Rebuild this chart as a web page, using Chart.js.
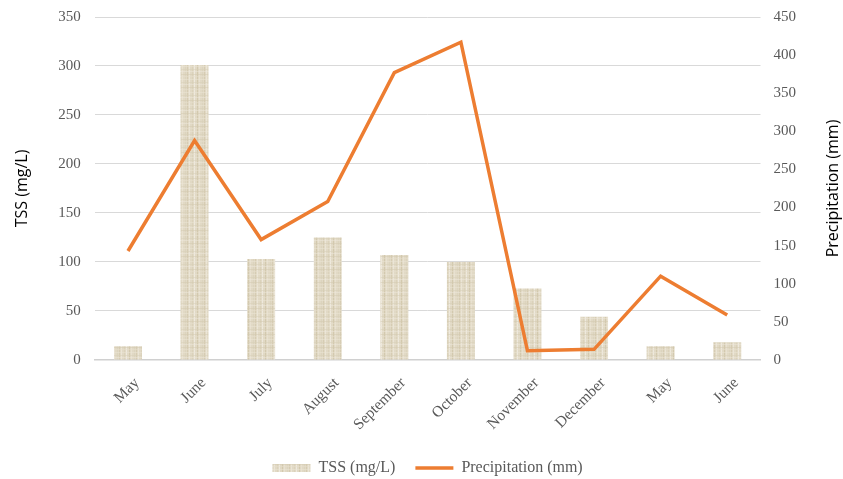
<!DOCTYPE html>
<html>
<head>
<meta charset="utf-8">
<script src="https://cdn.jsdelivr.net/npm/chart.js@4.4.1/dist/chart.umd.min.js"></script>
<style>
  html, body { margin: 0; padding: 0; background: #ffffff; }
  #wrap { width: 843px; height: 479px; }
</style>
</head>
<body>
<div id="wrap"><canvas id="chart" width="843" height="479"></canvas></div>
<script>
// Sampling months
const months = ['May', 'June', 'July', 'August', 'September', 'October', 'November', 'December', 'May', 'June'];
// Total suspended solids (mg/L)
const tss = [14, 301, 103, 125, 107, 100, 73, 44, 14, 18];
// Monthly precipitation (mm)
const precipitation = [143, 288, 158, 208, 377, 417, 12, 14, 110, 59];
// Axis tick ranges
const tssTicks = { min: 0, max: 350, step: 50 };
const precipTicks = { min: 0, max: 450, step: 50 };

// Linen-like woven fill for the TSS bars
function makeLinen() {
  const w = 17, h = 13;
  const c = document.createElement('canvas');
  c.width = w; c.height = h;
  const g = c.getContext('2d');
  g.fillStyle = '#e1d9c5';
  g.fillRect(0, 0, w, h);
  const vert = [[0, '#d6ccb3'], [2, '#ebe5d6'], [5, '#dbd2bb'], [7, '#eee9dd'], [10, '#d3c9ae'], [12, '#e8e1d0'], [15, '#dcd4be']];
  vert.forEach(([x, col]) => { g.fillStyle = col; g.fillRect(x, 0, 1, h); });
  const horiz = [[1, '#ebe5d5'], [4, '#d8cfb7'], [6, '#eee8db'], [9, '#d4cab0'], [11, '#e7e0ce']];
  g.globalAlpha = 0.5;
  horiz.forEach(([y, col]) => { g.fillStyle = col; g.fillRect(0, y, w, 1); });
  g.globalAlpha = 1;
  return g.createPattern(c, 'repeat');
}
const ctx = document.getElementById('chart').getContext('2d');
const linen = makeLinen();

const serif = '"Liberation Serif", "Times New Roman", serif';
const sans = '"Open Sans", "Noto Sans", sans-serif';

// Right-hand axis title, reading bottom to top
const rightTitle = {
  id: 'rightTitle',
  afterDraw(chart) {
    const c = chart.ctx;
    const area = chart.chartArea;
    c.save();
    c.translate(833, (area.top + area.bottom) / 2);
    c.rotate(-Math.PI / 2);
    c.font = '16px ' + sans;
    c.fillStyle = '#000000';
    c.textAlign = 'center';
    c.textBaseline = 'middle';
    c.fillText('Precipitation (mm)', 0, 0);
    c.restore();
  }
};

// Let the top tick labels overhang the plot without extra inset
function trimTop(scale) { scale.paddingTop = 0; }

new Chart(ctx, {
  type: 'bar',
  data: {
    labels: months,
    datasets: [
      {
        type: 'line',
        label: 'Precipitation (mm)',
        data: precipitation,
        yAxisID: 'y1',
        borderColor: '#ED7D31',
        backgroundColor: '#ED7D31',
        borderWidth: 3.5,
        pointRadius: 0,
        pointStyle: 'line',
        tension: 0,
        order: 0
      },
      {
        type: 'bar',
        label: 'TSS (mg/L)',
        data: tss,
        yAxisID: 'y',
        backgroundColor: linen,
        borderWidth: 0,
        barPercentage: 0.42,
        categoryPercentage: 1,
        pointStyle: 'rect',
        order: 1
      }
    ]
  },
  options: {
    responsive: false,
    animation: false,
    devicePixelRatio: 1,
    layout: { padding: { left: 13, right: 34, top: 17, bottom: -7 } },
    plugins: {
      tooltip: { enabled: false },
      legend: {
        position: 'bottom',
        fullSize: false,
        reverse: true,
        labels: {
          usePointStyle: true,
          pointStyleWidth: 38,
          boxHeight: 8,
          padding: 20,
          color: '#595959',
          font: { family: serif, size: 16 }
        }
      }
    },
    scales: {
      x: {
        grid: { display: false },
        border: { display: true, color: '#d0d0d0', width: 1.5 },
        ticks: {
          autoSkip: false,
          maxRotation: 45,
          minRotation: 45,
          labelOffset: 9,
          color: '#595959',
          padding: 6,
          font: { family: serif, size: 15.5 }
        }
      },
      y: {
        position: 'left',
        min: tssTicks.min,
        max: tssTicks.max,
        afterFit: trimTop,
        border: { display: false },
        grid: { color: '#d9d9d9', drawTicks: false },
        ticks: {
          stepSize: tssTicks.step,
          color: '#595959',
          padding: 14,
          font: { family: serif, size: 15 }
        },
        title: {
          display: true,
          text: 'TSS (mg/L)',
          color: '#000000',
          padding: { top: 0, bottom: 12 },
          font: { family: sans, size: 16 }
        }
      },
      y1: {
        position: 'right',
        min: precipTicks.min,
        max: precipTicks.max,
        afterFit: trimTop,
        border: { display: false },
        grid: { display: false, drawTicks: false },
        ticks: {
          stepSize: precipTicks.step,
          color: '#595959',
          padding: 13,
          font: { family: serif, size: 15 }
        }
      }
    }
  },
  plugins: [rightTitle]
});
</script>
</body>
</html>
